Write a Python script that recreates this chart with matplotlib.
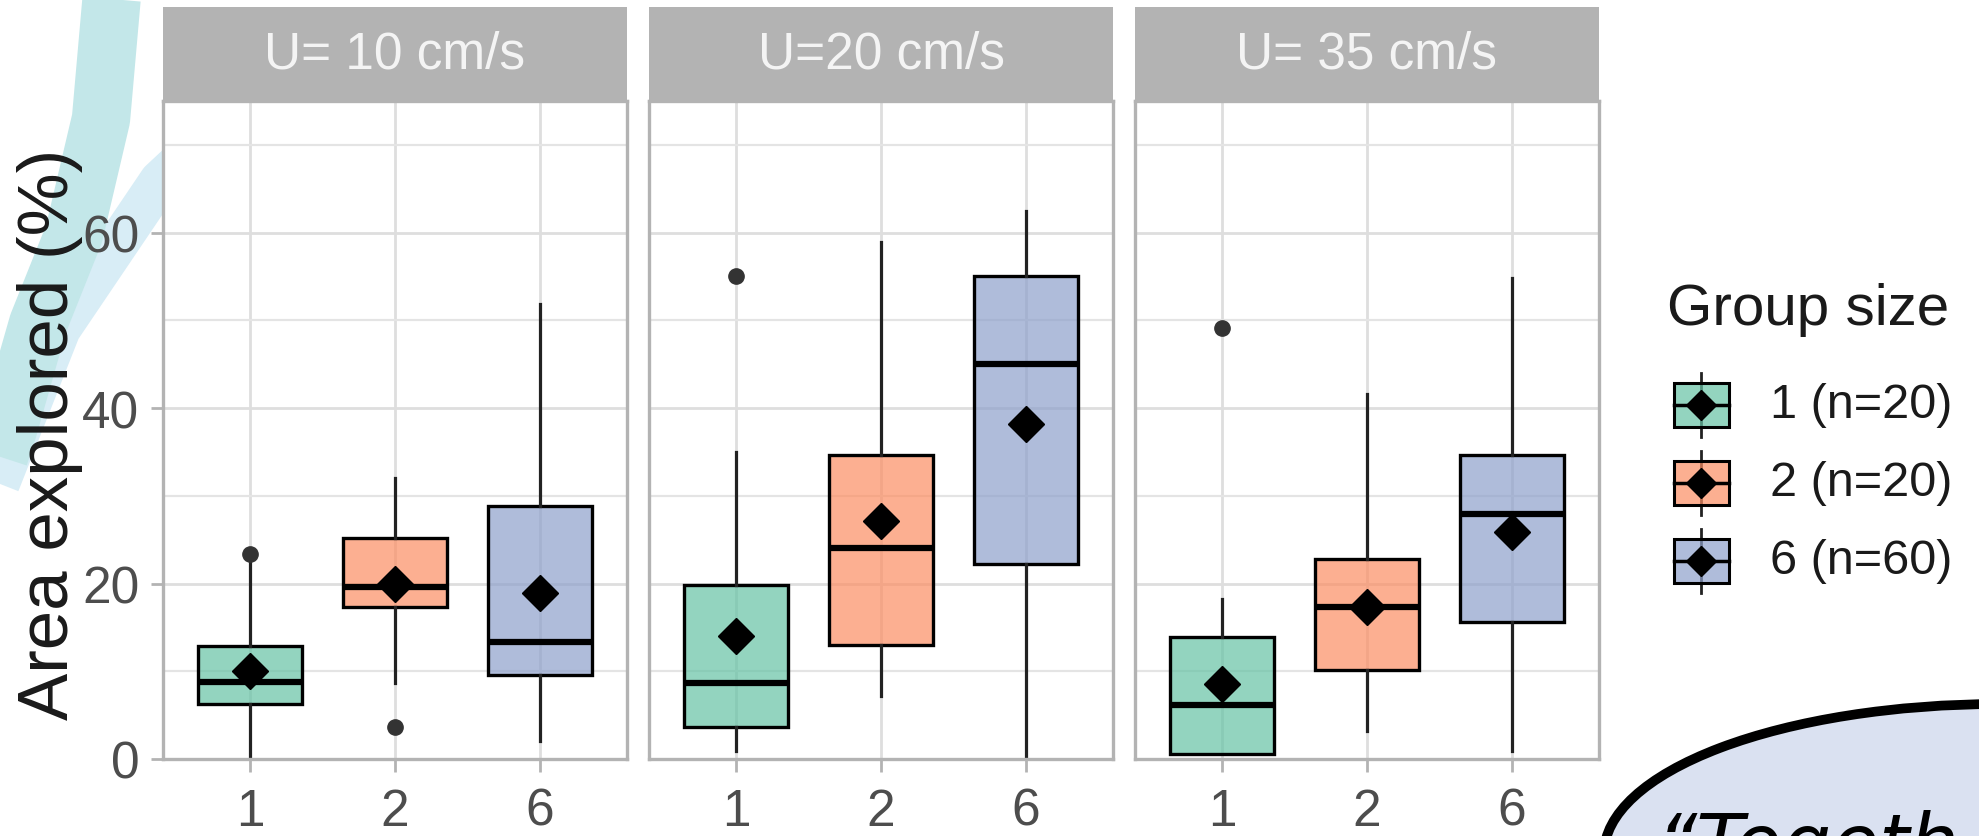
import matplotlib
matplotlib.use("Agg")
import matplotlib.pyplot as plt
from matplotlib.colors import to_rgba
from matplotlib.patches import Rectangle, Ellipse
from matplotlib.ticker import MultipleLocator

plt.rcParams['font.family'] = ['Liberation Sans', 'DejaVu Sans']

W, H = 1979, 837

panels = ['U= 10 cm/s', 'U=20 cm/s', 'U= 35 cm/s']
groups = ['1', '2', '6']
legend_labels = ['1 (n=20)', '2 (n=20)', '6 (n=60)']
fills = ['#66C2A5', '#FC8D62', '#8DA0CB']

# one row per panel, one value per group size (1, 2, 6)
q1 = [[6.3, 17.3, 9.6], [3.7, 13.0, 22.2], [0.6, 10.1, 15.6]]
med = [[8.8, 19.6, 13.3], [8.7, 24.1, 45.0], [6.2, 17.3, 27.9]]
q3 = [[12.9, 25.2, 28.8], [19.8, 34.6, 55.0], [13.9, 22.8, 34.6]]
whislo = [[0.0, 8.7, 2.0], [0.9, 7.2, 0.3], [0.6, 3.2, 0.9]]
whishi = [[22.6, 32.0, 51.9], [35.0, 58.9, 62.5], [18.2, 41.6, 54.8]]
means = [[10.0, 19.9, 18.9], [14.0, 27.1, 38.2], [8.6, 17.3, 25.9]]
fliers = [[[23.4], [3.7], []], [[55.0], [], []], [[49.1], [], []]]


def px_rect(x0, y0, x1, y1):
    # pixel box (origin top-left) -> figure fraction
    return [x0 / W, 1 - y1 / H, (x1 - x0) / W, (y1 - y0) / H]


fig = plt.figure(figsize=(W / 100, H / 100), dpi=100)

# slide background decoration
bg = fig.add_axes([0, 0, 1, 1], zorder=0)
bg.set_xlim(0, W)
bg.set_ylim(H, 0)
bg.axis('off')
bg.plot([250, 160, 60, -15], [98, 182, 330, 520], color='#d8edf6', lw=30,
        solid_capstyle='butt', zorder=0)
bg.plot([112, 101, 74, 38, 8, -15], [-5, 120, 235, 325, 430, 500],
        color='#c3e7e9', lw=42, solid_capstyle='butt', zorder=1)
bg.add_patch(Ellipse((2000, 855), 792, 300, fc='#DAE1F1', ec='black', lw=7, zorder=1))
bg.text(1657, 810, '\u201cTogeth', fontsize=56, style='italic', family='DejaVu Sans',
        ha='left', va='top', color='black', zorder=2)

lefts = [163, 649, 1135]
for i, name in enumerate(panels):
    l = lefts[i]
    ax = fig.add_axes(px_rect(l, 102, l + 464, 760), zorder=2)
    strip = fig.add_axes(px_rect(l, 8, l + 464, 102), zorder=2)

    stats = []
    for j in range(3):
        stats.append(dict(q1=q1[i][j], med=med[i][j], q3=q3[i][j],
                          whislo=whislo[i][j], whishi=whishi[i][j],
                          mean=means[i][j], fliers=fliers[i][j]))
    bp = ax.bxp(stats, positions=[1, 2, 3], widths=0.72, patch_artist=True,
                showmeans=True, showcaps=False,
                boxprops=dict(edgecolor='black', linewidth=2.4),
                medianprops=dict(color='black', linewidth=4.5),
                whiskerprops=dict(color='#222222', linewidth=2.3),
                flierprops=dict(marker='o', markerfacecolor='#333333',
                                markeredgecolor='#333333', markersize=11),
                meanprops=dict(marker='D', markerfacecolor='black',
                               markeredgecolor='black', markersize=18))
    for box, c in zip(bp['boxes'], fills):
        box.set_facecolor(to_rgba(c, 0.7))

    ax.set_xlim(0.4, 3.6)
    ax.set_ylim(0, 75)
    ax.set_xticks([1, 2, 3], groups)
    ax.yaxis.set_major_locator(MultipleLocator(20))
    ax.yaxis.set_minor_locator(MultipleLocator(10))
    ax.grid(which='major', color='#DEDEDE', lw=2)
    ax.grid(which='minor', axis='y', color='#E4E4E4', lw=1.6)
    ax.set_axisbelow(True)
    ax.tick_params(axis='both', which='major', length=9, width=2, color='#B3B3B3',
                   labelsize=37, labelcolor='#4D4D4D', pad=8)
    ax.tick_params(axis='x', which='major', pad=11)
    ax.tick_params(axis='y', which='minor', length=0)
    if i > 0:
        ax.tick_params(axis='y', which='major', length=0, labelleft=False)
    for sp in ax.spines.values():
        sp.set_color('#B3B3B3')
        sp.set_linewidth(2.4)

    strip.set_facecolor('#B3B3B3')
    strip.set_xticks([])
    strip.set_yticks([])
    for sp in strip.spines.values():
        sp.set_visible(False)
    strip.text(0.5, 0.5, name, transform=strip.transAxes, ha='center', va='center',
               fontsize=37, color='#F4F4F4')

fig.text(50 / W, 1 - 434 / H, 'Area explored (%)', rotation=90, fontsize=51,
         ha='center', va='center', color='#1A1A1A')

# legend
bg.text(1667, 310, 'Group size', fontsize=42, ha='left', va='center', color='#1A1A1A', zorder=3)
for k, (lab, c) in enumerate(zip(legend_labels, fills)):
    yc = 406 + 78 * k
    bg.plot([1701, 1701], [yc - 32, yc + 32], color='#222222', lw=2, zorder=3)
    bg.add_patch(Rectangle((1674, yc - 22), 55, 44, fc=to_rgba(c, 0.7), ec='black',
                           lw=2.2, zorder=4))
    bg.plot([1674, 1729], [yc, yc], color='black', lw=2.5, zorder=5)
    bg.plot([1701], [yc], marker='D', color='black', ms=15, zorder=6)
    bg.text(1770, yc, lab, fontsize=35, ha='left', va='center', color='#1A1A1A', zorder=3)

fig.savefig('out.png', dpi=100)
